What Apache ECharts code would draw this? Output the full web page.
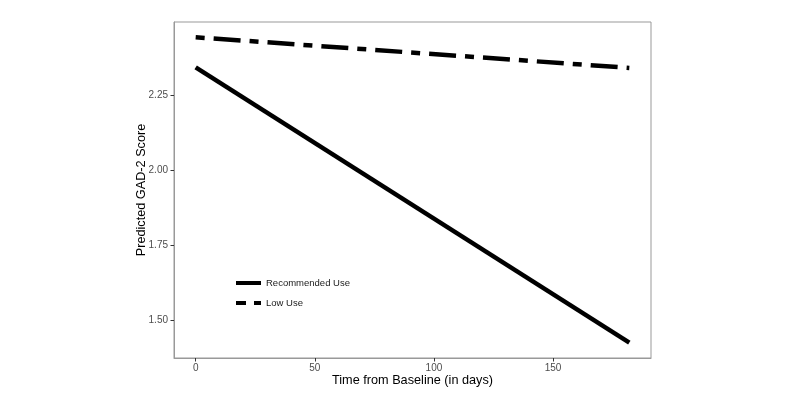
<!DOCTYPE html>
<html>
<head>
<meta charset="utf-8">
<script src="https://cdn.jsdelivr.net/npm/echarts@6/dist/echarts.min.js"></script>
<style>html,body{margin:0;padding:0;background:#fff}#c{width:800px;height:403px}</style>
</head>
<body>
<div id="c"></div>
<script>
const days = [0, 182];
const recommendedUse = [2.342, 1.424];
const lowUse = [2.442, 2.340];
const xTicks = [0, 50, 100, 150];
const yTicks = [1.50, 1.75, 2.00, 2.25];
const seriesNames = ['Recommended Use', 'Low Use'];

const chart = echarts.init(document.getElementById('c'), null, {renderer: 'canvas'});
const font = 'Liberation Sans, Arial, sans-serif';
const hiddenSym = {color: 'transparent', borderWidth: 0, opacity: 0};
chart.setOption({
  animation: false,
  backgroundColor: '#fff',
  grid: {left: 174, right: 149, top: 22, bottom: 45, show: true, borderColor: '#999', borderWidth: 1, backgroundColor: 'transparent'},
  legend: {
    orient: 'vertical', left: 229, top: 273, itemWidth: 25, itemHeight: 12, itemGap: 10,
    textStyle: {fontFamily: font, fontSize: 9.5, color: '#1a1a1a'},
    itemStyle: hiddenSym,
    data: [
      {name: seriesNames[0], itemStyle: hiddenSym, lineStyle: {color: '#000', width: 4, type: 'solid', cap: 'butt'}},
      {name: seriesNames[1], itemStyle: hiddenSym, lineStyle: {color: '#000', width: 4, type: [10, 8, 27, 9], cap: 'butt'}}
    ]
  },
  xAxis: {
    type: 'value', min: -9.1, max: 191.1,
    name: 'Time from Baseline (in days)', nameLocation: 'middle', nameGap: 16, nameMoveOverlap: false,
    nameTextStyle: {fontFamily: font, fontSize: 12.7, color: '#000'},
    axisLine: {show: true, onZero: false, lineStyle: {color: '#999', width: 1}},
    splitLine: {show: false},
    axisTick: {show: true, inside: false, length: 3.5, lineStyle: {color: '#333'}, customValues: xTicks},
    axisLabel: {fontFamily: font, fontSize: 10, color: '#4d4d4d', margin: 5, customValues: xTicks}
  },
  yAxis: {
    type: 'value', min: 1.373, max: 2.493,
    name: 'Predicted GAD-2 Score', nameLocation: 'middle', nameGap: 26, nameMoveOverlap: false,
    nameTextStyle: {fontFamily: font, fontSize: 12.7, color: '#000'},
    axisLine: {show: true, onZero: false, lineStyle: {color: '#999', width: 1}},
    splitLine: {show: false},
    axisTick: {show: true, inside: false, length: 3.5, lineStyle: {color: '#333'}, customValues: yTicks},
    axisLabel: {fontFamily: font, fontSize: 10, color: '#4d4d4d', margin: 6, customValues: yTicks,
      formatter: v => v.toFixed(2)}
  },
  series: [
    {
      name: seriesNames[0], type: 'line', symbol: 'none',
      data: days.map((d, i) => [d, recommendedUse[i]]),
      lineStyle: {color: '#000', width: 4.5, cap: 'butt'},
      itemStyle: {color: '#000'}
    },
    {
      name: seriesNames[1], type: 'line', symbol: 'none',
      data: days.map((d, i) => [d, lowUse[i]]),
      lineStyle: {color: '#000', width: 4.5, type: [9, 9, 27, 9], cap: 'butt'},
      itemStyle: {color: '#000'}
    }
  ]
});
</script>
</body>
</html>
